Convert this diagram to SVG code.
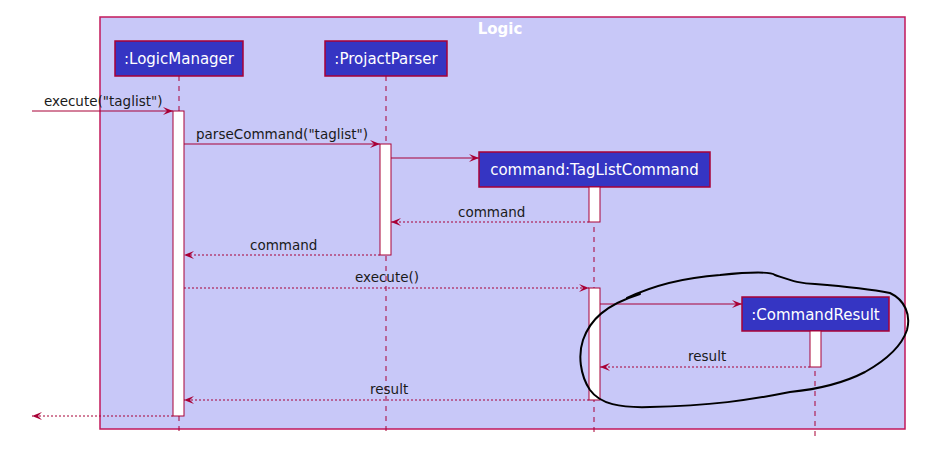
<svg xmlns="http://www.w3.org/2000/svg" width="934" height="457" viewBox="0 0 934 457">
<style>
.box{fill:#3535c3;stroke:#a80036;stroke-width:1.5}
.btxt{font-family:"DejaVu Sans",sans-serif;font-size:15px;fill:#ffffff;text-anchor:middle}
.life{stroke:#a80036;stroke-width:1;stroke-dasharray:5,5;fill:none}
.act{fill:#ffffff;stroke:#a80036;stroke-width:1}
.msg{stroke:#a80036;stroke-width:1;fill:none}
.ret{stroke:#a80036;stroke-width:1;stroke-dasharray:2,2;fill:none}
.lbl{font-family:"DejaVu Sans",sans-serif;font-size:13.5px;fill:#1a1a1a}
</style>
<defs>
<marker id="ah" viewBox="0 0 10 8" refX="10" refY="4" markerWidth="10" markerHeight="8" markerUnits="userSpaceOnUse" orient="auto">
<path d="M0,0 L10,4 L0,8 L4,4 Z" fill="#a80036"/>
</marker>
</defs>
<rect width="934" height="457" fill="#ffffff"/>
<g id="frame">
<rect x="100" y="17" width="805" height="412" fill="#c8c8f8" stroke="#c2185b" stroke-width="1.5"/>
<text x="500" y="34" font-family="DejaVu Sans,sans-serif" font-size="15" font-weight="bold" fill="#ffffff" text-anchor="middle">Logic</text>
</g>
<g id="lifelines">
<line class="life" x1="179" y1="76" x2="179" y2="436"/>
<line class="life" x1="386" y1="76" x2="386" y2="436"/>
<line class="life" x1="594" y1="187" x2="594" y2="436"/>
<line class="life" x1="815" y1="331" x2="815" y2="436"/>
</g>
<g id="LogicManager">
<rect class="box" x="115" y="41" width="128" height="35"/>
<text class="btxt" x="179" y="64">:LogicManager</text>
<rect class="act" x="173" y="111" width="11" height="305"/>
</g>
<g id="ProjactParser">
<rect class="box" x="325" y="41" width="122" height="35"/>
<text class="btxt" x="386" y="64">:ProjactParser</text>
<rect class="act" x="380" y="144" width="11" height="111"/>
</g>
<g id="TagListCommand">
<rect class="box" x="479" y="152" width="231" height="35"/>
<text class="btxt" x="594.5" y="175">command:TagListCommand</text>
<rect class="act" x="589" y="187" width="11" height="35"/>
<rect class="act" x="589" y="288" width="11" height="112"/>
</g>
<g id="CommandResult">
<rect class="box" x="742" y="297" width="147" height="34"/>
<text class="btxt" x="815.5" y="320">:CommandResult</text>
<rect class="act" x="810" y="331" width="11" height="36"/>
</g>
<g id="connectors">
<line class="msg" x1="32" y1="111" x2="173" y2="111" marker-end="url(#ah)"/>
<text class="lbl" x="44" y="106">execute("taglist")</text>
<line class="msg" x1="184" y1="144" x2="380" y2="144" marker-end="url(#ah)"/>
<text class="lbl" x="196" y="139">parseCommand("taglist")</text>
<line class="msg" x1="391" y1="158" x2="479" y2="158" marker-end="url(#ah)"/>
<line class="ret" x1="589" y1="222" x2="391" y2="222" marker-end="url(#ah)"/>
<text class="lbl" x="458" y="217">command</text>
<line class="ret" x1="380" y1="255" x2="184" y2="255" marker-end="url(#ah)"/>
<text class="lbl" x="250" y="250">command</text>
<line class="ret" x1="184" y1="288" x2="589" y2="288" marker-end="url(#ah)"/>
<text class="lbl" x="355" y="282">execute()</text>
<line class="msg" x1="600" y1="304" x2="742" y2="304" marker-end="url(#ah)"/>
<line class="ret" x1="810" y1="367" x2="600" y2="367" marker-end="url(#ah)"/>
<text class="lbl" x="688" y="361">result</text>
<line class="ret" x1="589" y1="400" x2="184" y2="400" marker-end="url(#ah)"/>
<text class="lbl" x="370" y="394">result</text>
<line class="ret" x1="173" y1="416" x2="32" y2="416" marker-end="url(#ah)"/>
</g>
<g id="annotation">
<path d="M627,298 C650,287 680,278 720,275 C750,272 770,271 775,275 C790,280 800,284 815,284 C840,286 870,289 890,293 C905,300 911,315 907,330 C902,345 890,358 865,372 C840,385 810,390 790,392 C750,400 710,406 650,407 C620,408 600,404 590,390 C580,375 578,355 583,340 C590,320 605,305 640,294" fill="none" stroke="#000000" stroke-width="2" stroke-linecap="round"/>
</g>
</svg>
